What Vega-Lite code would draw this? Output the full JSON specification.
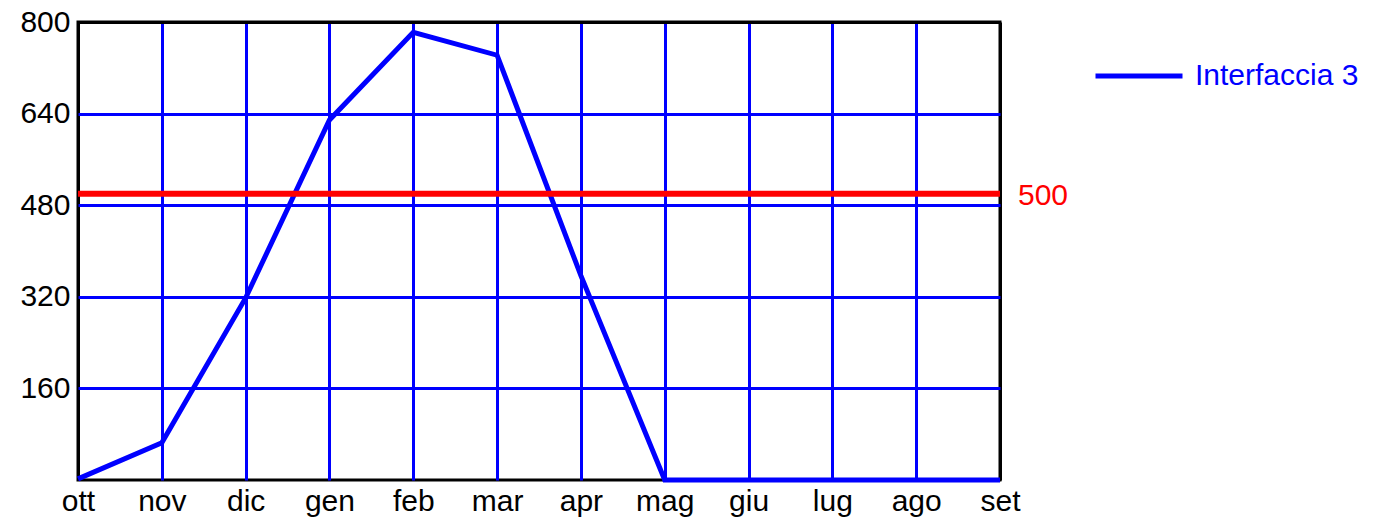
{
  "$schema": "https://vega.github.io/schema/vega-lite/v6.json",
  "width": 922,
  "height": 458,
  "autosize": "none",
  "padding": {"left": 78, "top": 22, "right": 394, "bottom": 38},
  "background": "white",
  "config": {
    "font": "Liberation Sans",
    "view": {"stroke": "black", "strokeWidth": 3}
  },
  "datasets": {
    "monthly": [
      {"month": "ott", "value": 2, "series": "Interfaccia 3"},
      {"month": "nov", "value": 65, "series": "Interfaccia 3"},
      {"month": "dic", "value": 318, "series": "Interfaccia 3"},
      {"month": "gen", "value": 629, "series": "Interfaccia 3"},
      {"month": "feb", "value": 782, "series": "Interfaccia 3"},
      {"month": "mar", "value": 742, "series": "Interfaccia 3"},
      {"month": "apr", "value": 357, "series": "Interfaccia 3"},
      {"month": "mag", "value": 0, "series": "Interfaccia 3"},
      {"month": "giu", "value": 0, "series": "Interfaccia 3"},
      {"month": "lug", "value": 0, "series": "Interfaccia 3"},
      {"month": "ago", "value": 0, "series": "Interfaccia 3"},
      {"month": "set", "value": 0, "series": "Interfaccia 3"}
    ],
    "threshold": [{"limit": 500}]
  },
  "layer": [
    {
      "data": {"name": "monthly"},
      "mark": {"type": "line", "strokeWidth": 5},
      "encoding": {
        "x": {
          "field": "month",
          "type": "ordinal",
          "sort": null,
          "scale": {"type": "point", "padding": 0},
          "axis": {
            "title": null,
            "labelAngle": 0,
            "labelFontSize": 30,
            "labelColor": "black",
            "labelPadding": 6,
            "domain": false,
            "ticks": false,
            "grid": true,
            "gridColor": {"condition": {"test": "datum.value === 'ott' || datum.value === 'set'", "value": "black"}, "value": "#0000ff"},
            "gridWidth": 3,
            "gridOpacity": 1
          }
        },
        "y": {
          "field": "value",
          "type": "quantitative",
          "scale": {"domain": [0, 800], "nice": false},
          "axis": {
            "title": null,
            "values": [160, 320, 480, 640, 800],
            "labelFontSize": 30,
            "labelColor": "black",
            "labelPadding": 8,
            "domain": false,
            "ticks": false,
            "grid": true,
            "gridColor": {"condition": {"test": "datum.value === 800", "value": "black"}, "value": "#0000ff"},
            "gridWidth": 3,
            "gridOpacity": 1
          }
        },
        "color": {
          "field": "series",
          "type": "nominal",
          "scale": {"range": ["#0000ff"]},
          "legend": {
            "title": null,
            "orient": "none",
            "legendX": 1015,
            "legendY": 8,
            "padding": 0,
            "symbolType": "stroke",
            "symbolSize": 7569,
            "symbolStrokeWidth": 5,
            "labelFontSize": 30,
            "labelColor": "#0000ff",
            "labelOffset": 10,
            "labelLimit": 400
          }
        }
      }
    },
    {
      "data": {"name": "threshold"},
      "mark": {"type": "rule", "color": "#ff0000", "strokeWidth": 6},
      "encoding": {
        "y": {"field": "limit", "type": "quantitative"}
      }
    },
    {
      "data": {"name": "threshold"},
      "mark": {"type": "text", "color": "#ff0000", "fontSize": 30, "align": "left", "baseline": "middle", "dx": 18, "dy": 2, "clip": false},
      "encoding": {
        "x": {"datum": "set", "type": "ordinal"},
        "y": {"field": "limit", "type": "quantitative"},
        "text": {"field": "limit", "type": "quantitative"}
      }
    }
  ]
}
